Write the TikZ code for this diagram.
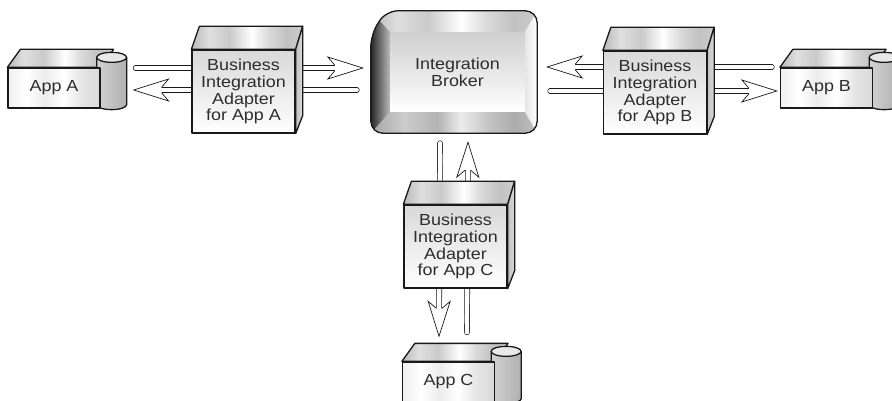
\documentclass[tikz,border=0pt]{standalone}
\usepackage{fontspec}
\usepackage{xcolor}
\usetikzlibrary{calc, backgrounds, positioning}
\newfontfamily\diagfont[FakeStretch=1.12]{Liberation Sans}
\definecolor{boxline}{RGB}{25, 25, 25}
\definecolor{textgray}{RGB}{45, 45, 45}
\pgfdeclarehorizontalshading{topstripes}{100bp}{color(0bp)=(gray!55); color(25bp)=(gray!55); color(33bp)=(gray!25); color(42bp)=(gray!42); color(52bp)=(white); color(60bp)=(gray!30); color(68bp)=(gray!48); color(75bp)=(gray!40); color(100bp)=(gray!40)}
\pgfdeclarehorizontalshading{facestripes}{100bp}{color(0bp)=(gray!12); color(25bp)=(gray!12); color(35bp)=(white); color(45bp)=(gray!15); color(55bp)=(white); color(65bp)=(gray!20); color(75bp)=(gray!30); color(100bp)=(gray!30)}
\pgfdeclarehorizontalshading{lowstripes}{100bp}{color(0bp)=(gray!70); color(25bp)=(gray!70); color(35bp)=(gray!40); color(45bp)=(gray!60); color(52bp)=(gray!15); color(60bp)=(gray!45); color(68bp)=(gray!65); color(75bp)=(gray!50); color(100bp)=(gray!50)}
\tikzset{
    blockline/.style={draw=boxline, line width=1.3pt, line join=round},
    appbox/.style={
        rectangle, blockline, minimum width=92pt, minimum height=40pt, inner sep=0pt,
        shade, shading=facestripes, text=textgray,
        font=\diagfont\fontsize{16pt}{16.8pt}\selectfont
    },
    adapterbox/.style={
        rectangle, blockline, minimum width=103pt, minimum height=83pt, inner sep=0pt,
        top color=gray!30, middle color=gray!8, bottom color=white, text=textgray,
        font=\diagfont\fontsize{16pt}{16.8pt}\selectfont, align=center
    },
    brokerface/.style={
        rectangle, minimum width=135pt, minimum height=80pt, inner sep=0pt,
        top color=gray!38, bottom color=white, text=textgray,
        font=\diagfont\fontsize{16pt}{16.8pt}\selectfont, align=center
    },
    shaft/.style={draw=boxline, line width=0.7pt, double=white, double distance=4.2pt, line cap=round},
    head/.style={fill=white, draw=boxline, line width=0.7pt, line join=miter},
}
% open barbed arrow with a hollow shaft, from #1 to #2
\newcommand{\fatarrow}[2]{%
    \coordinate (notch) at ($(#2)!28pt!(#1)$);
    \coordinate (barb) at ($(#2)!35pt!(#1)$);
    \draw[shaft] (#1) -- (notch);
    \filldraw[head] ($(notch)!2.8pt!90:(#2)$) -- ($(barb)!11pt!90:(#2)$) -- (#2)
        -- ($(barb)!11pt!-90:(#2)$) -- ($(notch)!2.8pt!-90:(#2)$);
}

\begin{document}
\begin{tikzpicture}[x=1pt, y=-1pt]
    \useasboundingbox (0,0) rectangle (892,401);

    % applications
    \node[appbox] (appA) at (54,88) {App A};
    \node[appbox] (appB) at (826.5,88) {App B};
    \node[appbox] (appC) at (448.5,382) {App C};

    % adapters
    \node[adapterbox] (adA) at (243.5,91.5) {Business\\Integration\\Adapter\\for App A};
    \node[adapterbox] (adB) at (655,92.5) {Business\\Integration\\Adapter\\for App B};
    \node[adapterbox] (adC) at (455.5,246.5) {Business\\Integration\\Adapter\\for App C};
    \foreach \n in {adA,adB,adC} {
        \draw[blockline, shade, shading=topstripes] (\n.north west) -- (\n.north east)
            -- ($(\n.north east)+(7,-23)$) -- ($(\n.north west)+(8,-23)$) -- cycle;
        \draw[blockline, left color=gray!50, right color=gray!28] (\n.north east)
            -- ($(\n.north east)+(7,-23)$) -- ($(\n.south east)+(7,-18)$) -- (\n.south east) -- cycle;
    }

    % broker
    \node[rectangle, minimum width=166pt, minimum height=122pt, inner sep=0pt] (broker) at (454,72) {};
    \node[brokerface] (face) at ($(broker.center)+(3.5,0)$) {Integration\\Broker};
    \begin{scope}
        \clip[rounded corners=12pt] ($(broker.north west)+(0,24)$) -- ($(broker.north west)+(15,0)$)
            -- (broker.north east) -- (broker.south east) -- (broker.south west) -- cycle;
        \shade[shading=topstripes] (broker.north west) -- (broker.north east) -- (face.north east) -- (face.north west) -- cycle;
        \shade[shading=lowstripes] (broker.south west) -- (broker.south east) -- (face.south east) -- (face.south west) -- cycle;
        \shade[left color=gray!20, right color=white] (broker.north east) -- (broker.south east) -- (face.south east) -- (face.north east) -- cycle;
        \shade[left color=black!85, right color=gray!55] (broker.north west) -- (broker.south west) -- (face.south west) -- (face.north west) -- cycle;
    \end{scope}
    \draw[blockline, rounded corners=12pt] ($(broker.north west)+(0,24)$) -- ($(broker.north west)+(15,0)$)
        -- (broker.north east) -- (broker.south east) -- (broker.south west) -- cycle;

    % app tops and drums
    \begin{scope}[on background layer]
        \foreach \n in {appA,appB,appC} {
            \draw[blockline, shade, shading=topstripes] (\n.north west) -- (\n.north east)
                -- ($(\n.north east)+(13,-18)$) -- ($(\n.north west)+(13,-18)$) -- cycle;
            \draw[blockline, left color=gray!35, right color=gray!62] ($(\n.north east)+(-4,-10)$)
                -- ($(\n.south east)+(-4,-4)$) arc[start angle=180, end angle=360, x radius=15pt, y radius=5pt]
                -- ($(\n.north east)+(26,-10)$) -- cycle;
            \draw[blockline, fill=gray!18] ($(\n.north east)+(11,-10)$) ellipse[x radius=15pt, y radius=5pt];
        }
    \end{scope}

    % connectors
    \coordinate (aout) at ($(appA.east)+(35,-20)$);
    \coordinate (ain) at ($(appA.east)+(33,2)$);
    \coordinate (bout) at ($(appB.west)+(-8,-21)$);
    \coordinate (bin) at ($(appB.west)+(-3,3)$);
    \coordinate (cout) at ($(appC.north)+(18.5,-29)$);
    \coordinate (cin) at ($(appC.north)+(-9.5,-25)$);
    \coordinate (brA) at ($(broker.west)+(-8,-4)$);
    \coordinate (brAo) at ($(broker.west)+(-14,18)$);
    \coordinate (brB) at ($(broker.east)+(10,-5)$);
    \coordinate (brBo) at ($(broker.east)+(13,19)$);
    \coordinate (brC) at ($(broker.south)+(14,9)$);
    \coordinate (brCo) at ($(broker.south)+(-14,10)$);
    \begin{scope}[on background layer]
        \fatarrow{aout}{brA}
        \fatarrow{brAo}{ain}
        \fatarrow{bout}{brB}
        \fatarrow{brBo}{bin}
        \fatarrow{cout}{brC}
        \fatarrow{brCo}{cin}
    \end{scope}
\end{tikzpicture}
\end{document}
